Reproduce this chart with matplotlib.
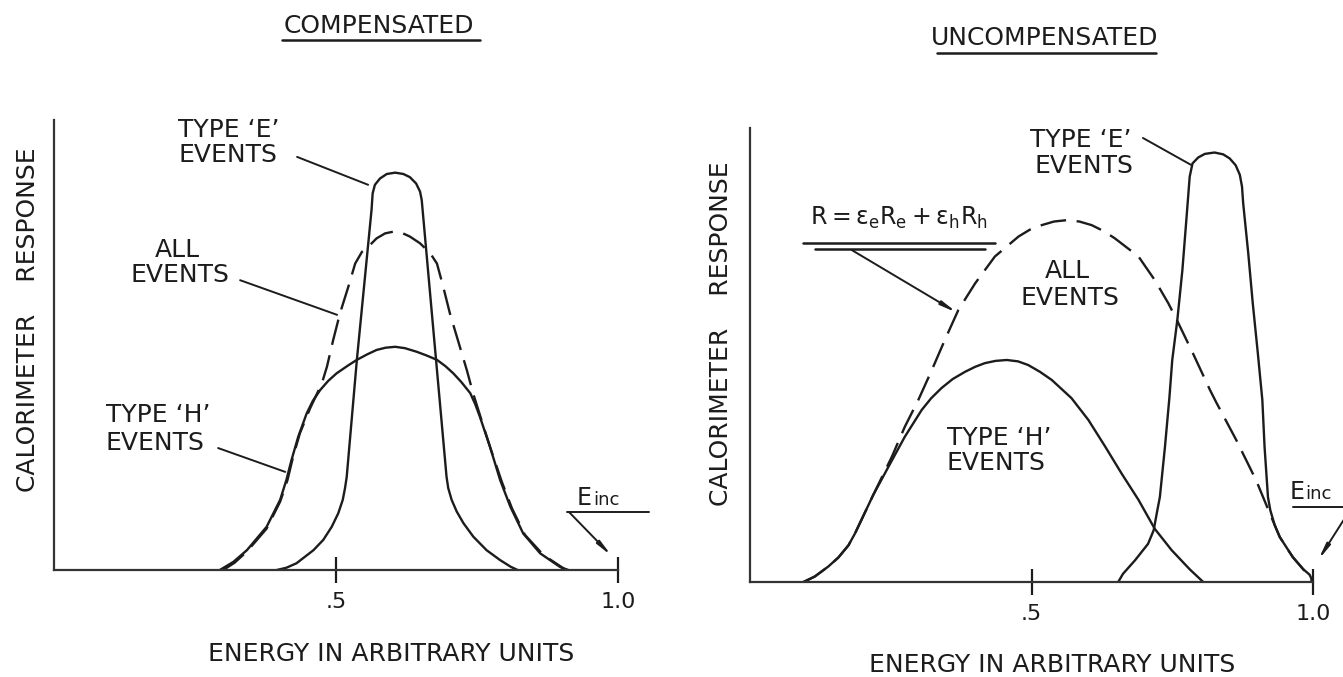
import matplotlib
matplotlib.use("Agg")
import matplotlib.pyplot as plt

# ---------------- data ----------------
# x: energy in arbitrary units (0..1), y: calorimeter response (axis top = 1)
comp_e_x = [0.395, 0.412, 0.430, 0.460, 0.4775, 0.4924, 0.504, 0.512, 0.516, 0.519, 0.537,
            0.563, 0.565, 0.569, 0.578, 0.590, 0.605, 0.6195, 0.631, 0.642, 0.649, 0.652,
            0.663, 0.674, 0.685, 0.696, 0.699, 0.705, 0.714, 0.726, 0.7435, 0.767, 0.791,
            0.810, 0.822]
comp_e_y = [0.000, 0.005, 0.015, 0.044, 0.067, 0.096, 0.126, 0.156, 0.182, 0.207, 0.467,
            0.800, 0.837, 0.856, 0.870, 0.880, 0.883, 0.880, 0.873, 0.859, 0.841, 0.822,
            0.668, 0.514, 0.361, 0.207, 0.182, 0.156, 0.130, 0.104, 0.074, 0.044, 0.022,
            0.007, 0.000]

comp_h_x = [0.294, 0.318, 0.342, 0.377, 0.401, 0.412, 0.421, 0.433, 0.448, 0.459, 0.472,
            0.486, 0.501, 0.522, 0.537, 0.555, 0.572, 0.588, 0.605, 0.622, 0.643, 0.660,
            0.679, 0.694, 0.708, 0.722, 0.738, 0.747, 0.755, 0.773, 0.791, 0.809, 0.832,
            0.862, 0.897, 0.909]
comp_h_y = [0.000, 0.018, 0.044, 0.096, 0.156, 0.200, 0.244, 0.296, 0.348, 0.376, 0.400,
            0.420, 0.437, 0.455, 0.467, 0.479, 0.489, 0.494, 0.496, 0.493, 0.485, 0.477,
            0.467, 0.453, 0.437, 0.418, 0.393, 0.368, 0.341, 0.274, 0.200, 0.141, 0.081,
            0.037, 0.007, 0.000]

comp_all_x = [0.300, 0.320, 0.342, 0.377, 0.401, 0.414, 0.424, 0.436, 0.454, 0.475, 0.484,
              0.495, 0.507, 0.522, 0.534, 0.546, 0.557, 0.572, 0.587, 0.602, 0.617, 0.631,
              0.649, 0.667, 0.679, 0.690, 0.702, 0.717, 0.732, 0.743, 0.758, 0.774, 0.794,
              0.812, 0.835, 0.868, 0.903, 0.912]
comp_all_y = [0.000, 0.016, 0.041, 0.092, 0.152, 0.200, 0.252, 0.304, 0.359, 0.415, 0.452,
              0.511, 0.570, 0.630, 0.681, 0.707, 0.718, 0.737, 0.748, 0.752, 0.749, 0.741,
              0.726, 0.704, 0.681, 0.630, 0.570, 0.507, 0.444, 0.393, 0.333, 0.270, 0.196,
              0.137, 0.078, 0.033, 0.004, 0.000]

unc_e_x = [0.654, 0.6625, 0.684, 0.707, 0.717, 0.7235, 0.728, 0.737, 0.745, 0.750, 0.759,
           0.768, 0.775, 0.781, 0.786, 0.796, 0.808, 0.825, 0.8404, 0.852, 0.8626, 0.870,
           0.8739, 0.876, 0.885, 0.893, 0.902, 0.910, 0.914, 0.920, 0.9242, 0.932, 0.941,
           0.964, 0.982, 0.994, 1.000]
unc_e_y = [0.000, 0.018, 0.048, 0.084, 0.114, 0.158, 0.187, 0.297, 0.407, 0.489, 0.577,
           0.687, 0.797, 0.893, 0.922, 0.935, 0.943, 0.946, 0.942, 0.933, 0.918, 0.897,
           0.871, 0.834, 0.724, 0.614, 0.504, 0.401, 0.297, 0.187, 0.158, 0.125, 0.099,
           0.055, 0.029, 0.016, 0.000]

unc_h_x = [0.095, 0.115, 0.139, 0.157, 0.175, 0.1865, 0.198, 0.219, 0.246, 0.275, 0.305,
           0.322, 0.340, 0.360, 0.382, 0.400, 0.417, 0.436, 0.456, 0.476, 0.494, 0.515,
           0.536, 0.571, 0.601, 0.631, 0.660, 0.690, 0.719, 0.749, 0.781, 0.805]
unc_h_y = [0.000, 0.012, 0.034, 0.054, 0.081, 0.107, 0.137, 0.192, 0.254, 0.320, 0.379,
           0.405, 0.427, 0.447, 0.463, 0.474, 0.482, 0.487, 0.489, 0.486, 0.478, 0.463,
           0.445, 0.405, 0.357, 0.298, 0.239, 0.181, 0.117, 0.070, 0.028, 0.000]

unc_all_x = [0.095, 0.115, 0.139, 0.157, 0.175, 0.1865, 0.198, 0.219, 0.252, 0.275, 0.299,
             0.323, 0.346, 0.370, 0.400, 0.435, 0.477, 0.497, 0.518, 0.540, 0.5625, 0.585,
             0.607, 0.628, 0.648, 0.690, 0.719, 0.743, 0.759, 0.787, 0.817, 0.828, 0.864,
             0.899, 0.926, 0.941, 0.964, 0.982, 1.000]
unc_all_y = [0.000, 0.012, 0.034, 0.054, 0.081, 0.107, 0.137, 0.192, 0.276, 0.342, 0.401,
             0.467, 0.533, 0.599, 0.658, 0.717, 0.761, 0.776, 0.786, 0.794, 0.797, 0.794,
             0.786, 0.773, 0.757, 0.717, 0.665, 0.614, 0.575, 0.503, 0.423, 0.396, 0.312,
             0.224, 0.143, 0.099, 0.055, 0.029, 0.000]

tick_vals = [0.5, 1.0]
tick_labels = [".5", "1.0"]

# ---------------- styling ----------------
INK = "#1c1c1c"
LW = 1.7
FS = 18
plt.rcParams["font.family"] = ["DejaVu Sans"]

fig = plt.figure(figsize=(13.43, 6.77), dpi=100)
W, H = 1343.0, 677.0
axL = fig.add_axes([54 / W, (H - 570) / H, 564 / W, 450 / H])
axR = fig.add_axes([750 / W, (H - 582) / H, 563 / W, 454 / H])


def setup(ax):
    ax.set_xlim(0, 1)
    ax.set_ylim(0, 1)
    for s in ("top", "right"):
        ax.spines[s].set_visible(False)
    for s in ("left", "bottom"):
        ax.spines[s].set_linewidth(1.6)
        ax.spines[s].set_color("#333333")
    ax.set_yticks([])
    ax.set_xticks(tick_vals, tick_labels)
    ax.tick_params(axis="x", direction="inout", length=19, width=1.6,
                   color=INK, labelsize=16, labelcolor=INK, pad=6)
    ax.patch.set_alpha(0)


def curve(ax, xs, ys, dashed=False):
    kw = dict(color=INK, lw=LW, solid_joinstyle="round", dash_joinstyle="round",
              solid_capstyle="round")
    if dashed:
        kw["linestyle"] = (0, (11, 4.5))
    ax.plot(xs, ys, **kw)


def txt(ax, x, y, s, ha="center", fs=FS, **kw):
    ax.text(x, y, s, ha=ha, va="baseline", fontsize=fs, color=INK,
            clip_on=False, **kw)


def seg(ax, p, q, lw=1.4):
    ax.plot([p[0], q[0]], [p[1], q[1]], color=INK, lw=lw, clip_on=False,
            solid_capstyle="round")


def arrow(ax, p, q):
    ax.annotate("", xy=q, xytext=p, xycoords="data", textcoords="data",
                annotation_clip=False,
                arrowprops=dict(arrowstyle="-|>,head_length=0.9,head_width=0.12",
                                color=INK, lw=1.4, shrinkA=0, shrinkB=0))


# ---------------- left panel: compensated ----------------
setup(axL)
curve(axL, comp_e_x, comp_e_y)
curve(axL, comp_h_x, comp_h_y)
curve(axL, comp_all_x, comp_all_y, dashed=True)

txt(axL, 0.576, 1.193, "COMPENSATED")
seg(axL, (0.404, 1.178), (0.755, 1.178), lw=1.8)
txt(axL, 0.309, 0.962, "TYPE \u2018E\u2019")
txt(axL, 0.308, 0.907, "EVENTS")
seg(axL, (0.431, 0.918), (0.557, 0.856))
txt(axL, 0.218, 0.696, "ALL")
txt(axL, 0.223, 0.640, "EVENTS")
seg(axL, (0.330, 0.644), (0.502, 0.567))
txt(axL, 0.184, 0.329, "TYPE \u2018H\u2019")
txt(axL, 0.179, 0.267, "EVENTS")
seg(axL, (0.291, 0.271), (0.410, 0.218))
txt(axL, 0.927, 0.144, "E", ha="left", fs=17)
txt(axL, 0.956, 0.144, "inc", ha="left", fs=13)
seg(axL, (0.910, 0.129), (1.055, 0.129))
arrow(axL, (0.913, 0.129), (0.989, 0.031))
axL.text(-0.046, 0.556, "CALORIMETER    RESPONSE", rotation=90, ha="center",
         va="center", fontsize=FS, color=INK, clip_on=False)
txt(axL, 0.598, -0.202, "ENERGY IN ARBITRARY UNITS")

# ---------------- right panel: uncompensated ----------------
setup(axR)
curve(axR, unc_e_x, unc_e_y)
curve(axR, unc_h_x, unc_h_y)
curve(axR, unc_all_x, unc_all_y, dashed=True)

txt(axR, 0.524, 1.183, "UNCOMPENSATED")
seg(axR, (0.332, 1.166), (0.721, 1.166), lw=1.8)
txt(axR, 0.588, 0.958, "TYPE \u2018E\u2019")
txt(axR, 0.593, 0.901, "EVENTS")
seg(axR, (0.698, 0.978), (0.783, 0.919))
txt(axR, 0.107, 0.786, r"$\mathregular{R = \varepsilon_e R_e + \varepsilon_h R_h}$",
    ha="left", fs=17)
seg(axR, (0.094, 0.747), (0.435, 0.747), lw=1.8)
seg(axR, (0.115, 0.733), (0.417, 0.733), lw=1.8)
arrow(axR, (0.181, 0.731), (0.368, 0.593))
txt(axR, 0.563, 0.670, "ALL")
txt(axR, 0.568, 0.610, "EVENTS")
txt(axR, 0.442, 0.302, "TYPE \u2018H\u2019")
txt(axR, 0.437, 0.247, "EVENTS")
txt(axR, 0.959, 0.183, "E", ha="left", fs=17)
txt(axR, 0.986, 0.183, "inc", ha="left", fs=13)
seg(axR, (0.964, 0.165), (1.090, 0.165))
arrow(axR, (1.069, 0.165), (1.009, 0.048))
axR.text(-0.052, 0.548, "CALORIMETER    RESPONSE", rotation=90, ha="center",
         va="center", fontsize=FS, color=INK, clip_on=False)
txt(axR, 0.536, -0.198, "ENERGY IN ARBITRARY UNITS")

fig.savefig("out.png", dpi=100, facecolor="white")
